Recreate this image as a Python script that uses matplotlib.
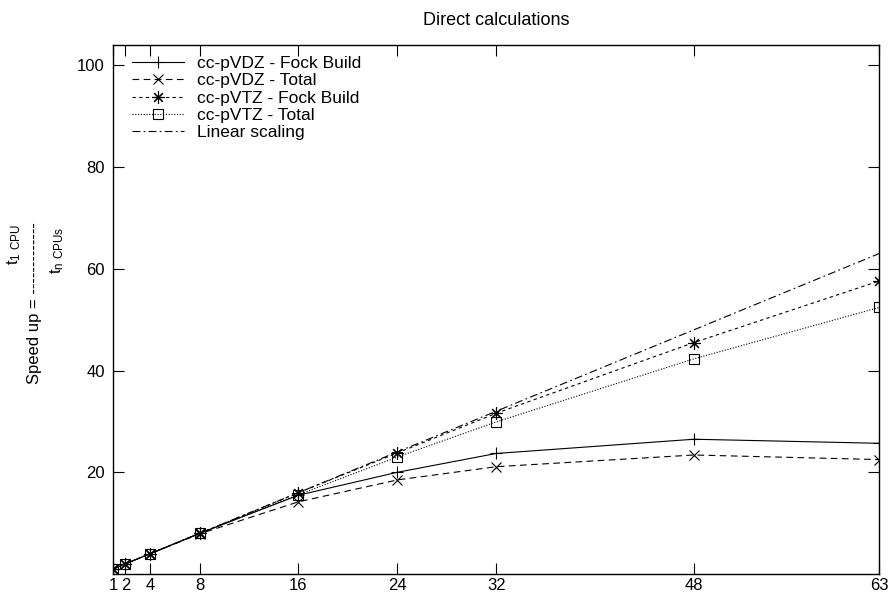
import matplotlib.pyplot as plt

plt.rcParams['font.family'] = ['Liberation Sans', 'DejaVu Sans']

# number of CPUs
cpus = [1, 2, 4, 8, 16, 24, 32, 48, 63]

# speed up values
vdz_fock = [1, 2, 4, 8, 15.5, 20.0, 23.7, 26.5, 25.7]
vdz_total = [1, 2, 4, 7.9, 14.2, 18.5, 21.1, 23.4, 22.5]
vtz_fock = [1, 2, 4, 8, 16.0, 23.8, 31.6, 45.5, 57.6]
vtz_total = [1, 2, 4, 8, 15.6, 23.0, 29.9, 42.3, 52.4]
linear = [1, 2, 4, 8, 16, 24, 32, 48, 63]

labels = ['cc-pVDZ - Fock Build', 'cc-pVDZ - Total', 'cc-pVTZ - Fock Build',
          'cc-pVTZ - Total', 'Linear scaling']
yticks = [20, 40, 60, 80, 100]


def main():
    fig = plt.figure(figsize=(8.9, 5.98), dpi=100)
    ax = fig.add_axes([0.127, 0.04, 0.861, 0.885])

    lw = 0.8
    ax.plot(cpus, vdz_fock, color='black', lw=lw, ls='-', marker='+', ms=9,
            mew=0.8, label=labels[0])
    ax.plot(cpus, vdz_total, color='black', lw=lw, ls=(0, (6, 4)), marker='x',
            ms=7, mew=0.8, label=labels[1])
    ax.plot(cpus, vtz_fock, color='black', lw=lw, ls=(0, (3, 3)), marker=(8, 2, 0),
            ms=9, mew=0.8, label=labels[2])
    ax.plot(cpus, vtz_total, color='black', lw=lw, ls=(0, (1, 1.5)), marker='s',
            ms=7.5, mfc='none', mew=0.8, label=labels[3])
    ax.plot(cpus, linear, color='black', lw=lw, ls=(0, (7, 3, 1.5, 3)),
            label=labels[4])

    ax.set_xlim(1, 63)
    ax.set_ylim(0, 104)
    ax.set_xticks(cpus)
    ax.set_yticks(yticks)
    ax.tick_params(direction='in', length=8, width=0.8, top=True, right=True,
                   labelsize=12)
    ax.tick_params(axis='x', pad=3)
    ax.tick_params(axis='y', pad=6)
    for s in ax.spines.values():
        s.set_linewidth(1.0)

    ax.set_title('Direct calculations', fontsize=13, pad=14)

    ax.legend(loc='upper left', bbox_to_anchor=(0.006, 1.005), frameon=False,
              fontsize=12.5, handlelength=3.0, handletextpad=0.75,
              labelspacing=0.12, numpoints=1, borderaxespad=0.4)

    # y label: Speed up = t_1CPU / t_nCPUs, drawn like the original text
    fig.text(35 / 890, 1 - 303 / 598, 'Speed up = ' + '-' * 13, rotation=90,
             ha='center', va='center', fontsize=12)
    fig.text(14 / 890, 1 - 245 / 598, r'$\mathregular{t_{1\ CPU}}$', rotation=90,
             ha='center', va='center', fontsize=12)
    fig.text(57 / 890, 1 - 250 / 598, r'$\mathregular{t_{n\ CPUs}}$', rotation=90,
             ha='center', va='center', fontsize=12)

    fig.savefig('out.png', dpi=100)


if __name__ == "__main__":
    main()
